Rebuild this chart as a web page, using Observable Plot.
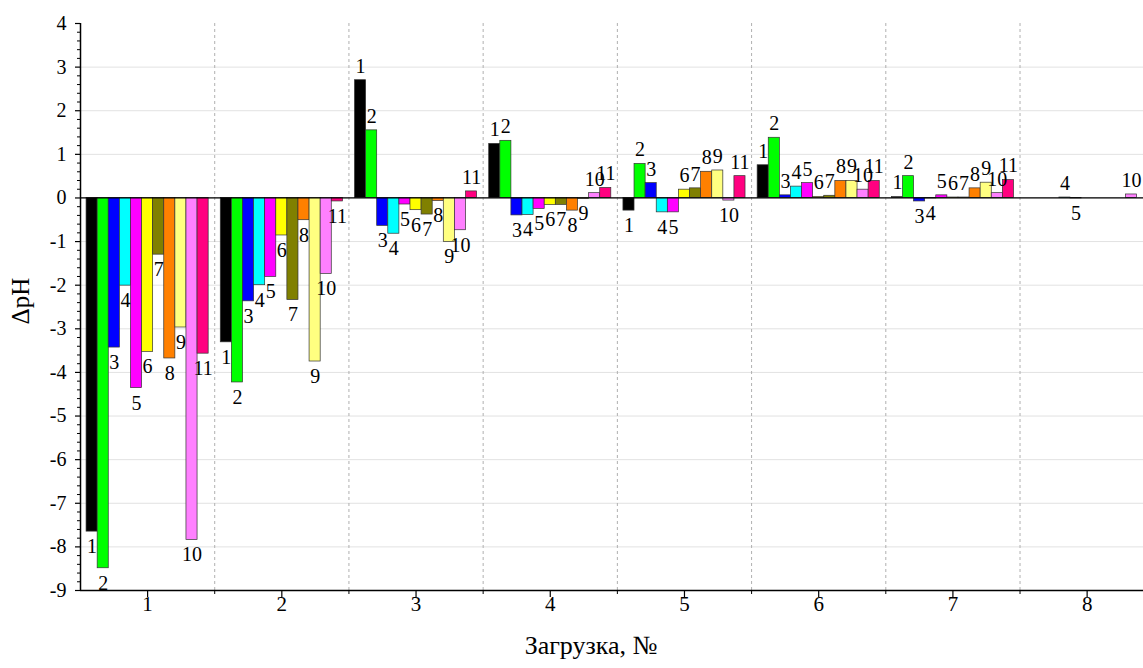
<!DOCTYPE html>
<html>
<head>
<meta charset="utf-8">
<script src="https://cdn.jsdelivr.net/npm/d3@7"></script>
<script src="https://cdn.jsdelivr.net/npm/@observablehq/plot@0.6"></script>
<style>
  html, body { margin: 0; padding: 0; background: #fff; }
  #chart svg { display: block; }
  #chart svg text { font-family: Liberation Serif, Times New Roman, serif; }
</style>
</head>
<body>
<div id="chart"></div>
<script>
// Loadings (x categories) and sample series 1..11
const loadings = [1, 2, 3, 4, 5, 6, 7, 8];
const series = ["1", "2", "3", "4", "5", "6", "7", "8", "9", "10", "11"];
const seriesColors = ["#000000", "#00ff00", "#0000ff", "#00ffff", "#ff00ff", "#ffff00",
                      "#808000", "#ff8000", "#ffff80", "#ff80ff", "#ff0080"];

// ΔpH per loading, one value per series (null = not measured)
const load1 = [-7.65, -8.49, -3.43, -2.01, -4.36, -3.53, -1.30, -3.68, -2.97, -7.84, -3.57];
const load2 = [-3.31, -4.23, -2.37, -2.00, -1.81, -0.86, -2.34, -0.51, -3.75, -1.74, -0.08];
const load3 = [2.70, 1.55, -0.64, -0.82, -0.15, -0.28, -0.38, -0.07, -1.01, -0.74, 0.15];
const load4 = [1.24, 1.31, -0.40, -0.39, -0.25, -0.16, -0.16, -0.29, -0.02, 0.11, 0.23];
const load5 = [-0.29, 0.78, 0.34, -0.33, -0.33, 0.19, 0.22, 0.60, 0.63, -0.06, 0.50];
const load6 = [0.75, 1.38, 0.06, 0.26, 0.34, 0.02, 0.05, 0.39, 0.39, 0.19, 0.39];
const load7 = [0.02, 0.50, -0.08, -0.01, 0.06, 0.01, 0.01, 0.22, 0.35, 0.11, 0.41];
const load8 = [null, null, null, 0.01, -0.01, null, null, null, null, 0.08, null];

const yTicks = d3.range(-9, 5);
const yMinor = d3.range(-90, 41, 2).map(d => d / 10).filter(d => !Number.isInteger(d));
const xMinor = [1.5, 2.5, 3.5, 4.5, 5.5, 6.5, 7.5];

// Long table built from the arrays above
const rows = [];
[load1, load2, load3, load4, load5, load6, load7, load8].forEach((vals, gi) => {
  vals.forEach((v, si) => {
    if (v != null) rows.push({loading: loadings[gi], idx: si, series: series[si], value: v});
  });
});

// Cluster geometry (in loading units): 11 adjacent bars per loading
const barW = 0.0827;
const x1 = d => d.loading - barW * series.length / 2 + d.idx * barW;
const x2 = d => x1(d) + barW;
const xc = d => x1(d) + barW / 2;

const font = "Liberation Serif, Times New Roman, serif";
const noLabel = () => "";
const yTitleAt = -2.9; // vertical centre of the rotated y-axis title, in ΔpH units

const chart = Plot.plot({
  width: 1143,
  height: 668,
  marginLeft: 80,
  marginRight: 0,
  marginTop: 23,
  marginBottom: 78,
  style: {fontFamily: font, background: "#fff", color: "#000"},
  x: {type: "linear", domain: [0.5, 8.42], axis: null},
  y: {domain: [-9, 4], axis: null},
  color: {type: "ordinal", domain: series, range: seriesColors},
  marks: [
    Plot.gridY(d3.range(-8, 4), {stroke: "#e2e2e2", strokeOpacity: 1, strokeWidth: 1}),
    Plot.ruleX(xMinor, {y1: -9, y2: 4, stroke: "#b0b0b0", strokeDasharray: "3,3", strokeWidth: 1}),
    Plot.rect(rows, {x1, x2, y1: 0, y2: "value", fill: "series", stroke: "#333", strokeWidth: 0.7}),
    Plot.ruleY([0], {stroke: "#000", strokeWidth: 1.3}),
    Plot.ruleY([-9], {stroke: "#000", strokeWidth: 1.5}),
    Plot.ruleX([0.5], {y1: -9, y2: 4, stroke: "#000", strokeWidth: 1.5}),
    // y axis ticks (major + minor) and tick labels
    Plot.axisY(yTicks, {anchor: "left", tickSize: 5, tickFormat: noLabel, label: null, stroke: "#000", strokeWidth: 1.2}),
    Plot.axisY(yMinor, {anchor: "left", tickSize: 3, tickFormat: noLabel, label: null, stroke: "#000"}),
    Plot.text(yTicks, {y: d => d, text: d => String(d), frameAnchor: "left", dx: -14, textAnchor: "end",
                       fontSize: 20, fontFamily: font, fill: "#000"}),
    // x axis ticks (major + minor) and tick labels
    Plot.axisX(loadings, {anchor: "bottom", tickSize: 7, tickFormat: noLabel, label: null, stroke: "#000", strokeWidth: 1.2}),
    Plot.axisX(xMinor, {anchor: "bottom", tickSize: 4, tickFormat: noLabel, label: null, stroke: "#000"}),
    Plot.text(loadings, {x: d => d, text: d => String(d), frameAnchor: "bottom", dy: 20,
                         fontSize: 21, fontFamily: font, fill: "#000"}),
    // series numbers at bar ends
    Plot.text(rows.filter(d => d.value >= 0), {x: xc, y: "value", text: "series", dy: -14,
                                                fontSize: 20, fontFamily: font, fill: "#000"}),
    Plot.text(rows.filter(d => d.value < 0), {x: xc, y: "value", text: "series", dy: 15,
                                               fontSize: 20, fontFamily: font, fill: "#000"}),
    // axis titles
    Plot.text(["ΔpH"], {y: () => yTitleAt, frameAnchor: "left", text: d => d, rotate: -90, dx: -60,
                        fontSize: 25, fontFamily: font, fill: "#000"}),
    Plot.text(["Загрузка, №"], {frameAnchor: "bottom", text: d => d, dx: -21, dy: 63,
                                fontSize: 26, fontFamily: font, fill: "#000"})
  ]
});

document.getElementById("chart").appendChild(chart);
</script>
</body>
</html>
